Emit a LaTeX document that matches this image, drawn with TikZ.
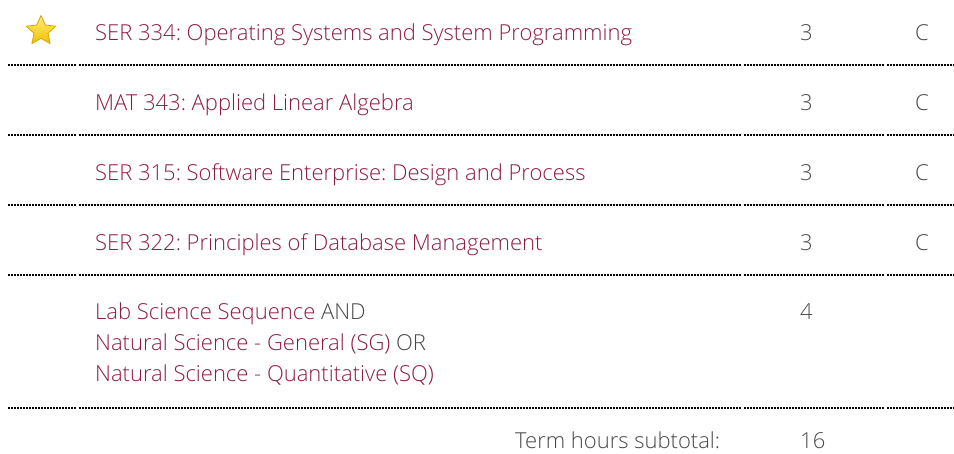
\documentclass[tikz,border=0pt]{standalone}
\usepackage{fontspec}
\setmainfont{Open Sans}[UprightFont=* Light]
\usetikzlibrary{shapes.geometric}
\definecolor{maroon}{HTML}{8C1D40}
\definecolor{txtgray}{HTML}{484848}
\definecolor{staredge}{HTML}{D9A800}
\definecolor{startop}{HTML}{FFEE77}
\definecolor{starbot}{HTML}{F0C000}
\tikzset{
  x=1pt, y=-1pt,
  course/.style={anchor=base west, inner sep=0pt, text=maroon, font=\fontsize{22}{31}\selectfont},
  plain/.style={anchor=base west, inner sep=0pt, text=txtgray, font=\fontsize{22}{31}\selectfont},
  sep/.style={line width=2.8pt, dash pattern=on 2pt off 1pt},
  starshape/.style={star, star points=5, star point ratio=2.1, minimum size=31pt, inner sep=0pt, draw=staredge, line width=0.8pt, line join=round, top color=startop, bottom color=starbot}
}
\frenchspacing
\begin{document}
\begin{tikzpicture}
\useasboundingbox (0,0) rectangle (954,453);
\node[starshape] (star) at (41,31) {};
% row texts
\node[course] (r1) at (95,40) {SER 334: Operating Systems and System Programming};
\node[plain] (h1) at (800,40) {3};
\node[plain] (g1) at (915,40) {C};
\node[course] (r2) at (95,110) {MAT 343: Applied Linear Algebra};
\node[plain] (h2) at (800,110) {3};
\node[plain] (g2) at (915,110) {C};
\node[course] (r3) at (95,180) {SER 315: Software Enterprise: Design and Process};
\node[plain] (h3) at (800,180) {3};
\node[plain] (g3) at (915,180) {C};
\node[course] (r4) at (95,250) {SER 322: Principles of Database Management};
\node[plain] (h4) at (800,250) {3};
\node[plain] (g4) at (915,250) {C};
\node[course] (r5a) at (95,319) {Lab Science Sequence \textcolor{txtgray}{AND}};
\node[course] (r5b) at (95,350) {Natural Science - General (SG) \textcolor{txtgray}{OR}};
\node[course] (r5c) at (95,381) {Natural Science - Quantitative (SQ)};
\node[plain] (h5) at (800,319) {4};
\node[plain] (st) at (515,448) {Term hours subtotal:};
\node[plain] (sv) at (800,448) {16};
% separators
\foreach \yy in {65,135,205,275,408}{
  \draw[sep] (8,\yy) -- (76,\yy);
  \draw[sep] (78.5,\yy) -- (741,\yy);
  \draw[sep] (743.5,\yy) -- (884,\yy);
  \draw[sep] (886.5,\yy) -- (954,\yy);
}
\end{tikzpicture}
\end{document}
